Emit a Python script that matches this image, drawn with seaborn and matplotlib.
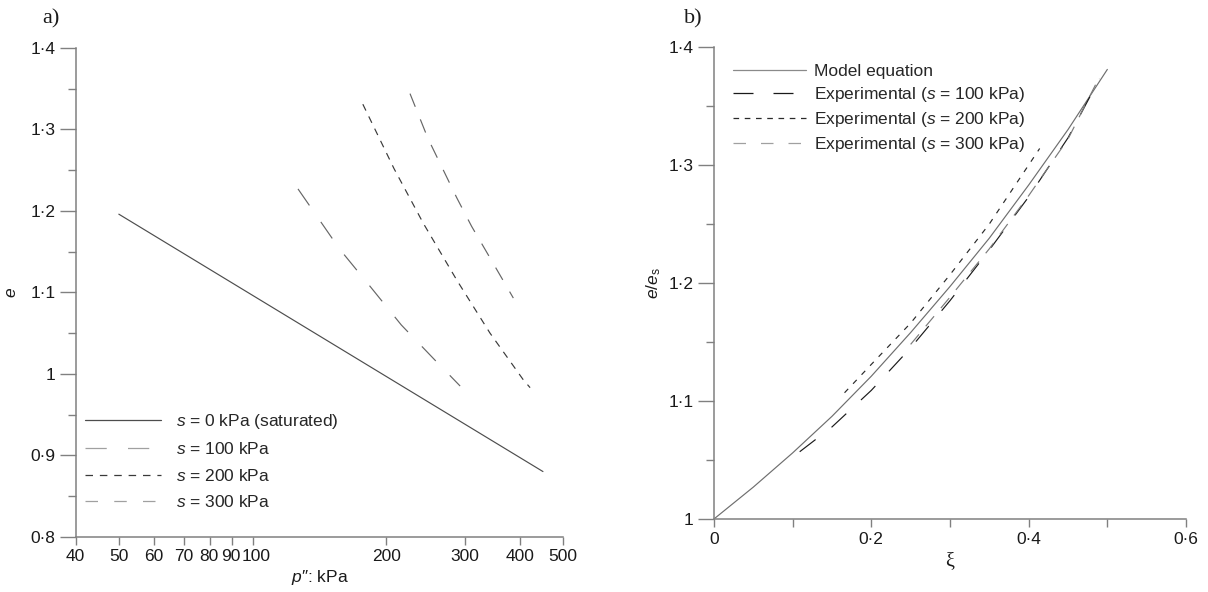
import numpy as np
import pandas as pd
import matplotlib
matplotlib.use("Agg")
import matplotlib.pyplot as plt
import matplotlib.transforms as mtransforms
import seaborn as sns
from matplotlib.ticker import FixedLocator, FixedFormatter, NullFormatter
from matplotlib.lines import Line2D

# ---------------- data ----------------
# panel a: e versus p'' (kPa)
s0_p = [50, 450]
s0_e = [1.196, 0.880]
s100_p = [126.5, 157, 184, 216, 257, 293]
s100_e = [1.227, 1.153, 1.107, 1.060, 1.017, 0.985]
s200_p = [177, 208, 242, 288, 342, 406, 421]
s200_e = [1.331, 1.252, 1.185, 1.115, 1.050, 0.993, 0.983]
s300_p = [226, 248, 288, 311, 339, 386]
s300_e = [1.344, 1.289, 1.216, 1.181, 1.146, 1.093]

a_xticks = [40, 50, 60, 70, 80, 90, 100, 200, 300, 400, 500]
a_xticklabels = ["40", "50", "60", "70", "80", "90", "100", "200", "300", "400", "500"]
a_yticks = [0.8, 0.9, 1.0, 1.1, 1.2, 1.3, 1.4]
a_yticklabels = ["0·8", "0·9", "1", "1·1", "1·2", "1·3", "1·4"]
a_labels = ["$s$ = 0 kPa (saturated)", "$s$ = 100 kPa", "$s$ = 200 kPa", "$s$ = 300 kPa"]

# panel b: e/e_s versus xi
model_xi = [0, 0.05, 0.1, 0.15, 0.2, 0.25, 0.3, 0.35, 0.4, 0.45, 0.5]
model_r = [1.000, 1.027, 1.056, 1.087, 1.121, 1.158, 1.197, 1.238, 1.283, 1.330, 1.381]
exp100_xi = [0.109, 0.15, 0.2, 0.25, 0.3, 0.35, 0.4, 0.45, 0.49]
exp100_r = [1.057, 1.078, 1.109, 1.145, 1.185, 1.228, 1.273, 1.323, 1.373]
exp200_xi = [0.166, 0.2, 0.25, 0.3, 0.35, 0.414]
exp200_r = [1.107, 1.131, 1.166, 1.207, 1.250, 1.314]
exp300_xi = [0.25, 0.3, 0.35, 0.4, 0.45, 0.485]
exp300_r = [1.148, 1.188, 1.229, 1.274, 1.322, 1.368]

b_xticks = [0, 0.2, 0.4, 0.6]
b_xticklabels = ["0", "0·2", "0·4", "0·6"]
b_yticks = [1.0, 1.1, 1.2, 1.3, 1.4]
b_yticklabels = ["1", "1·1", "1·2", "1·3", "1·4"]
b_labels = ["Model equation", "Experimental ($s$ = 100 kPa)",
            "Experimental ($s$ = 200 kPa)", "Experimental ($s$ = 300 kPa)"]

# ---------------- style ----------------
sns.set_theme(style="ticks")
plt.rcParams["font.family"] = ["Liberation Sans", "DejaVu Sans"]
plt.rcParams["mathtext.fontset"] = "custom"
plt.rcParams["mathtext.rm"] = "Liberation Sans"
plt.rcParams["mathtext.it"] = "Liberation Sans:italic"
plt.rcParams["mathtext.bf"] = "Liberation Sans:bold"

SPINE = "#808080"
TXT = "#1a1a1a"
FS = 12.5

fig = plt.figure(figsize=(12.08, 5.92), dpi=100)
axa = fig.add_axes([0.0627, 0.0934, 0.4036, 0.8255])
axb = fig.add_axes([0.591, 0.1233, 0.3908, 0.7973])

def style_axes(ax):
    for side in ["top", "right"]:
        ax.spines[side].set_visible(False)
    for side in ["left", "bottom"]:
        ax.spines[side].set_color(SPINE)
        ax.spines[side].set_linewidth(1.1)
    ax.tick_params(axis="both", which="both", colors=SPINE, labelcolor=TXT,
                   labelsize=FS, direction="out", width=1.0)
    ax.tick_params(axis="y", which="major", length=11.5, pad=3)
    ax.tick_params(axis="y", which="minor", length=6)
    ax.tick_params(axis="x", which="major", length=6, pad=3)
    ax.tick_params(axis="x", which="minor", length=6)
    ax.grid(False)

def line(ax, x, y, color, ls, lw=0.85):
    df = pd.DataFrame({"x": x, "y": y})
    sns.lineplot(data=df, x="x", y="y", ax=ax, color=color, linestyle=ls,
                 linewidth=lw, estimator=None, sort=False, legend=False)

# ---------------- panel a ----------------
c_a = ["#4d4d4d", "#666666", "#3a3a3a", "#666666"]
ls_a = ["-", (0, (17, 17)), (0, (6, 5.5)), (0, (12, 11.5))]
line(axa, s0_p, s0_e, c_a[0], ls_a[0])
line(axa, s100_p, s100_e, c_a[1], ls_a[1])
line(axa, s200_p, s200_e, c_a[2], ls_a[2])
line(axa, s300_p, s300_e, c_a[3], ls_a[3])

axa.set_xscale("log")
axa.set_xlim(40, 500)
axa.set_ylim(0.8, 1.4)
style_axes(axa)
axa.xaxis.set_major_locator(FixedLocator(a_xticks))
axa.xaxis.set_major_formatter(FixedFormatter(a_xticklabels))
axa.xaxis.set_minor_locator(FixedLocator([]))
axa.xaxis.set_minor_formatter(NullFormatter())
axa.yaxis.set_major_locator(FixedLocator(a_yticks))
axa.yaxis.set_major_formatter(FixedFormatter(a_yticklabels))
axa.yaxis.set_minor_locator(FixedLocator([0.85, 0.95, 1.05, 1.15, 1.25, 1.35]))
axa.set_xlabel("$p$″: kPa", fontsize=FS, color=TXT, labelpad=3)
axa.set_ylabel("$e$", fontsize=FS, color=TXT, labelpad=8)

# nudge the crowded "90" and "100" labels apart a little
shifts = {"80": -1, "90": -1, "100": 4}
for lab in axa.get_xticklabels():
    txt = lab.get_text()
    if txt in shifts:
        off = mtransforms.ScaledTranslation(shifts[txt] / 100.0, 0, fig.dpi_scale_trans)
        lab.set_transform(lab.get_transform() + off)

leg_c_a = ["#4d4d4d", "#a0a0a0", "#3a3a3a", "#a0a0a0"]
leg_ls_a = ["-", (0, (17, 17)), (0, (6, 5.5)), (0, (10, 13))]
ha = [Line2D([], [], color=c, linestyle=s, linewidth=0.9) for c, s in zip(leg_c_a, leg_ls_a)]
axa.legend(ha, a_labels, loc="lower left", bbox_to_anchor=(0.005, 0.04),
           frameon=False, fontsize=FS, handlelength=4.37, handletextpad=0.85,
           labelspacing=0.6, borderaxespad=0.0)

# ---------------- panel b ----------------
c_b = ["#6e6e6e", "#1a1a1a", "#2a2a2a", "#7a7a7a"]
ls_b = ["-", (0, (17, 17)), (0, (4.5, 6)), (0, (11, 9))]
line(axb, model_xi, model_r, c_b[0], ls_b[0])
line(axb, exp100_xi, exp100_r, c_b[1], ls_b[1])
line(axb, exp200_xi, exp200_r, c_b[2], ls_b[2])
line(axb, exp300_xi, exp300_r, c_b[3], ls_b[3])

axb.set_xlim(0, 0.6)
axb.set_ylim(1.0, 1.4)
style_axes(axb)
axb.xaxis.set_major_locator(FixedLocator(b_xticks))
axb.xaxis.set_major_formatter(FixedFormatter(b_xticklabels))
axb.xaxis.set_minor_locator(FixedLocator([0.1, 0.3, 0.5]))
axb.yaxis.set_major_locator(FixedLocator(b_yticks))
axb.yaxis.set_major_formatter(FixedFormatter(b_yticklabels))
axb.yaxis.set_minor_locator(FixedLocator([1.05, 1.15, 1.25, 1.35]))
axb.set_xlabel("ξ", fontsize=FS + 2, color=TXT, labelpad=4,
               family=["Liberation Serif", "DejaVu Serif"])
axb.set_ylabel("$e$/$e$$_\\mathrm{s}$", fontsize=FS, color=TXT, labelpad=4)

leg_c_b = ["#8a8a8a", "#1a1a1a", "#2a2a2a", "#a0a0a0"]
leg_ls_b = ["-", (0, (16, 16)), (0, (4.5, 4.5)), (0, (10, 12))]
hb = [Line2D([], [], color=c, linestyle=s, linewidth=0.9) for c, s in zip(leg_c_b, leg_ls_b)]
axb.legend(hb, b_labels, loc="upper left", bbox_to_anchor=(0.025, 0.978),
           frameon=False, fontsize=FS, handlelength=4.2, handletextpad=0.5,
           labelspacing=0.33, borderaxespad=0.0)

# panel letters
fig.text(0.035, 0.968, "a)", fontsize=16, color=TXT,
         family=["Liberation Serif", "DejaVu Serif"], ha="left", va="center")
fig.text(0.566, 0.968, "b)", fontsize=16, color=TXT,
         family=["Liberation Serif", "DejaVu Serif"], ha="left", va="center")

fig.savefig("out.png", dpi=100)
